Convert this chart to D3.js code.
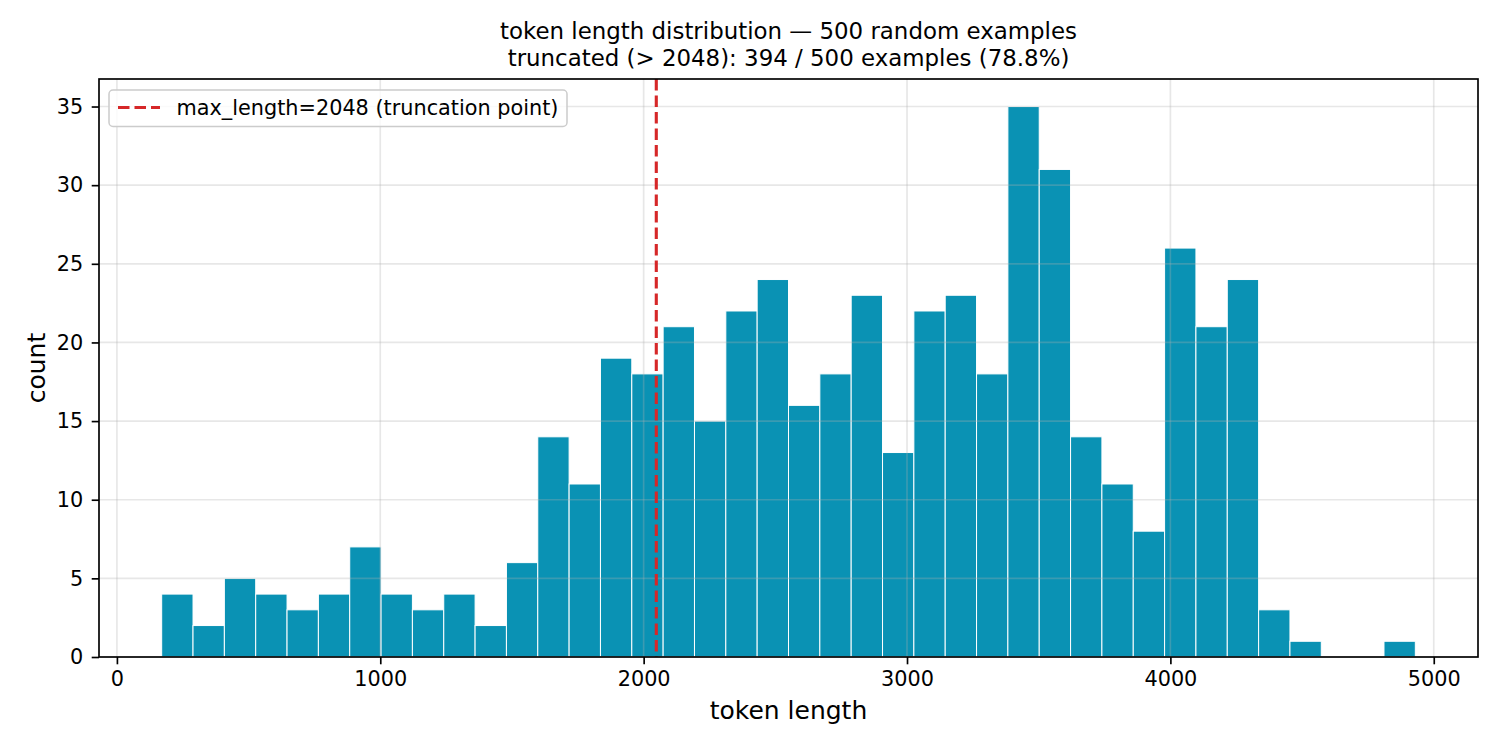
<!DOCTYPE html>
<html>
<head>
<meta charset="utf-8">
<script src="https://cdn.jsdelivr.net/npm/d3@7"></script>
<style>
  body { margin: 0; background: #fff; }
  text { font-family: "DejaVu Sans", sans-serif; fill: #000; }
</style>
</head>
<body>
<div id="chart"></div>
<script>
// histogram counts, 40 equal bins between binLo and binHi (token length)
const binCounts = [4, 2, 5, 4, 3, 4, 7, 4, 3, 4,
                   2, 6, 14, 11, 19, 18, 21, 15, 22, 24,
                   16, 18, 23, 13, 22, 23, 18, 35, 31, 14,
                   11, 8, 26, 21, 24, 3, 1, 0, 0, 1];
const binLo = 170;
const binHi = 4930;
const maxLength = 2048;
const xTicks = [0, 1000, 2000, 3000, 4000, 5000];
const yTicks = [0, 5, 10, 15, 20, 25, 30, 35];
const titleLines = ["token length distribution \u2014 500 random examples",
                    "truncated (> 2048): 394 / 500 examples (78.8%)"];
const legendLabel = "max_length=2048 (truncation point)";

const width = 1500, height = 750;
const margin = {left: 99, right: 22, top: 79, bottom: 93};

const svg = d3.select("#chart").append("svg")
    .attr("width", width)
    .attr("height", height);

svg.append("rect").attr("width", width).attr("height", height).attr("fill", "#fff");

const binW = (binHi - binLo) / binCounts.length;
const bins = binCounts.map((c, i) => ({x0: binLo + i * binW, x1: binLo + (i + 1) * binW, n: c}));

// matplotlib-style 5% padding
const pad = 0.05 * (binHi - binLo);
const xScale = d3.scaleLinear()
    .domain([binLo - pad, binHi + pad])
    .range([margin.left, width - margin.right]);

const yScale = d3.scaleLinear()
    .domain([0, d3.max(binCounts) * 1.05])
    .range([height - margin.bottom, margin.top]);

// bars
svg.append("g")
    .selectAll("rect")
    .data(bins.filter(d => d.n > 0))
    .join("rect")
    .attr("x", d => xScale(d.x0))
    .attr("y", d => yScale(d.n))
    .attr("width", d => xScale(d.x1) - xScale(d.x0))
    .attr("height", d => yScale(0) - yScale(d.n))
    .attr("fill", "#0a92b4")
    .attr("stroke", "#fff")
    .attr("stroke-width", 1);

// grid on top of bars
const grid = svg.append("g")
    .attr("stroke", "#b0b0b0")
    .attr("stroke-opacity", 0.3)
    .attr("stroke-width", 1.67);

grid.selectAll(".gx").data(xTicks).join("line")
    .attr("x1", d => xScale(d)).attr("x2", d => xScale(d))
    .attr("y1", margin.top).attr("y2", height - margin.bottom);

grid.selectAll(".gy").data(yTicks).join("line")
    .attr("y1", d => yScale(d)).attr("y2", d => yScale(d))
    .attr("x1", margin.left).attr("x2", width - margin.right);

// truncation line
svg.append("line")
    .attr("x1", xScale(maxLength)).attr("x2", xScale(maxLength))
    .attr("y1", margin.top).attr("y2", height - margin.bottom)
    .attr("stroke", "#d62728")
    .attr("stroke-width", 3.1)
    .attr("stroke-dasharray", "11.5,5");

// axes
const xAxis = svg.append("g")
    .attr("transform", `translate(0,${height - margin.bottom})`)
    .call(d3.axisBottom(xScale).tickValues(xTicks).tickFormat(d3.format("d"))
        .tickSize(7.3).tickPadding(7.3));

const yAxis = svg.append("g")
    .attr("transform", `translate(${margin.left},0)`)
    .call(d3.axisLeft(yScale).tickValues(yTicks)
        .tickSize(7.3).tickPadding(8.5));

[xAxis, yAxis].forEach(g => {
    g.select(".domain").remove();
    g.selectAll(".tick line").attr("stroke", "#000").attr("stroke-width", 1.67);
    g.selectAll(".tick text").attr("font-size", "20.8px").attr("font-family", "DejaVu Sans");
});

// frame
svg.append("rect")
    .attr("x", margin.left).attr("y", margin.top)
    .attr("width", width - margin.left - margin.right)
    .attr("height", height - margin.top - margin.bottom)
    .attr("fill", "none")
    .attr("stroke", "#000")
    .attr("stroke-width", 1.67);

// title
svg.append("g").selectAll("text").data(titleLines).join("text")
    .attr("x", (margin.left + width - margin.right) / 2)
    .attr("y", (d, i) => 39 + i * 26.5)
    .attr("text-anchor", "middle")
    .attr("font-size", "22.9px")
    .text(d => d);

// axis labels
svg.append("text")
    .attr("x", (margin.left + width - margin.right) / 2)
    .attr("y", 719)
    .attr("text-anchor", "middle")
    .attr("font-size", "25px")
    .text("token length");

svg.append("text")
    .attr("transform", `translate(45,${(margin.top + height - margin.bottom) / 2}) rotate(-90)`)
    .attr("text-anchor", "middle")
    .attr("font-size", "25px")
    .text("count");

// legend
const lg = svg.append("g");
lg.append("rect")
    .attr("x", 109).attr("y", 90)
    .attr("width", 458).attr("height", 36.5)
    .attr("rx", 4)
    .attr("fill", "#fff").attr("fill-opacity", 0.8)
    .attr("stroke", "#cccccc").attr("stroke-width", 1.5);
lg.append("line")
    .attr("x1", 118).attr("x2", 160)
    .attr("y1", 107.5).attr("y2", 107.5)
    .attr("stroke", "#d62728")
    .attr("stroke-width", 3.1)
    .attr("stroke-dasharray", "11.5,5");
lg.append("text")
    .attr("x", 176.5).attr("y", 114.5)
    .attr("font-size", "20.8px")
    .text(legendLabel);
</script>
</body>
</html>
